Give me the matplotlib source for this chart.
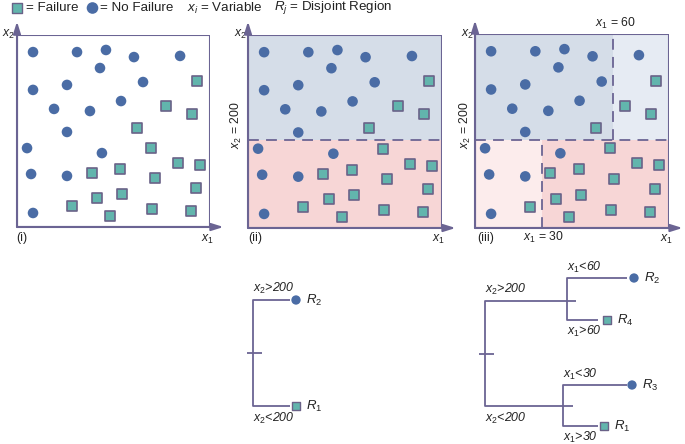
import matplotlib.pyplot as plt
from matplotlib.patches import Rectangle

plt.rcParams['font.family'] = ['Liberation Sans', 'DejaVu Sans']
plt.rcParams['mathtext.fontset'] = 'custom'
plt.rcParams['mathtext.it'] = 'Liberation Sans:italic'
plt.rcParams['mathtext.rm'] = 'Liberation Sans'

# observations, in box units (0-100 on both axes)
circle_x = [8.3, 31.1, 46.1, 60.6, 84.5, 43.0, 8.3, 25.9, 65.3, 19.2, 37.8, 53.9,
            25.9, 5.2, 44.0, 7.3, 25.9, 8.3]
circle_y = [91.1, 91.1, 92.2, 88.5, 89.1, 82.8, 71.4, 74.0, 75.5, 61.5, 60.4, 65.6,
            49.5, 41.1, 38.5, 27.6, 26.6, 7.3]
square_x = [93.3, 77.2, 90.7, 62.2, 69.4, 83.4, 94.8, 38.9, 53.4, 71.5, 92.7, 41.5,
            54.4, 28.5, 48.2, 69.9, 90.2]
square_y = [76.0, 63.0, 58.9, 51.6, 41.1, 33.3, 32.3, 28.1, 30.2, 25.5, 20.3, 15.1,
            17.2, 10.9, 5.7, 9.4, 8.3]

# split points, in box units
split_x2 = 45.6   # x2 = 200
split_x1a = 34.5  # x1 = 30
split_x1b = 71.0  # x1 = 60

AX = '#6b6493'
BLUE = '#4a6ca5'
TEAL = '#62b5ad'
SQ_EDGE = '#6a6288'
R2_C = '#d5dde8'
R1_C = '#f7d6d6'
R3_C = '#fcecec'
R4_C = '#e6ebf3'
TXT = '#222222'

W, H = 685, 444
fig = plt.figure(figsize=(W / 100, H / 100), dpi=100)

ov = fig.add_axes([0, 0, 1, 1])
ov.set_xlim(0, W)
ov.set_ylim(H, 0)
ov.axis('off')


def panel(l, t, r, b):
    ax = fig.add_axes([l / W, 1 - b / H, (r - l) / W, (b - t) / H])
    ax.set_xlim(0, 100)
    ax.set_ylim(0, 100)
    ax.axis('off')
    return ax


def frame(ax):
    ax.add_patch(Rectangle((0, 0), 100, 100, fill=False, ec=AX, lw=1.5, zorder=5))
    arrow = dict(arrowstyle='-|>,head_length=0.7,head_width=0.22', color=AX, lw=1.5,
                 shrinkA=0, shrinkB=0)
    ax.annotate('', xy=(0, 107), xytext=(0, 0), arrowprops=arrow, zorder=6,
                annotation_clip=False)
    ax.annotate('', xy=(107, 0), xytext=(0, 0), arrowprops=arrow, zorder=6,
                annotation_clip=False)


def points(ax):
    ax.scatter(circle_x, circle_y, s=58, c=BLUE, edgecolors='none',
               zorder=7, clip_on=False)
    ax.scatter(square_x, square_y, s=52, marker='s', c=TEAL, edgecolors=SQ_EDGE,
               linewidths=1.2, zorder=7, clip_on=False)


def dashed(ax, xs, ys):
    ax.plot(xs, ys, color=AX, lw=1.3, ls=(0, (6, 4)), zorder=4)


# panel (i)
a1 = panel(17, 35, 210, 227)
frame(a1)
points(a1)

# panel (ii)
a2 = panel(248, 35, 442, 228)
a2.add_patch(Rectangle((0, split_x2), 100, 100 - split_x2, fc=R2_C, ec='none'))
a2.add_patch(Rectangle((0, 0), 100, split_x2, fc=R1_C, ec='none'))
dashed(a2, [0, 100], [split_x2, split_x2])
frame(a2)
points(a2)

# panel (iii)
a3 = panel(475, 34, 669, 228)
a3.add_patch(Rectangle((0, split_x2), split_x1b, 100 - split_x2, fc=R2_C, ec='none'))
a3.add_patch(Rectangle((split_x1b, split_x2), 100 - split_x1b, 100 - split_x2, fc=R4_C, ec='none'))
a3.add_patch(Rectangle((0, 0), split_x1a, split_x2, fc=R3_C, ec='none'))
a3.add_patch(Rectangle((split_x1a, 0), 100 - split_x1a, split_x2, fc=R1_C, ec='none'))
dashed(a3, [0, 100], [split_x2, split_x2])
dashed(a3, [split_x1b, split_x1b], [split_x2, 100])
dashed(a3, [split_x1a, split_x1a], [0, split_x2])
frame(a3)
points(a3)

tk = dict(fontsize=8.8, color=TXT, va='center')
lg = dict(fontsize=9.6, color=TXT, va='center', ha='left')

# legend row
ov.scatter([17], [8], s=48, marker='s', c=TEAL, edgecolors=SQ_EDGE, linewidths=1.0, clip_on=False)
ov.text(26.5, 8, '= Failure', **lg)
ov.scatter([92.5], [8], s=70, c=BLUE, edgecolors='none', clip_on=False)
ov.text(100, 8, '= No Failure', **lg)
ov.text(187, 8, r'$x_i$ = Variable', **lg)
ov.text(274, 8, r'$R_j$ = Disjoint Region', **lg)

# panel annotations
for x0 in [8, 240, 467]:
    ov.text(x0, 34, r'$x_2$', ha='center', **tk)
for x0 in [207, 438, 666]:
    ov.text(x0, 239, r'$x_1$', ha='center', **tk)
ov.text(16, 238, '(i)', ha='left', **tk)
ov.text(248, 238, '(ii)', ha='left', **tk)
ov.text(477, 238, '(iii)', ha='left', **tk)
ov.text(236, 125, r'$x_2$ = 200', ha='center', rotation=90, **tk)
ov.text(465, 125, r'$x_2$ = 200', ha='center', rotation=90, **tk)
rk = dict(fontsize=9.5, color=TXT, va='center', ha='center')
ov.text(328, 92, r'$R_2$', **rk)
ov.text(367, 183, r'$R_1$', **rk)
ov.text(557, 90, r'$R_2$', **rk)
ov.text(635, 87, r'$R_4$', **rk)
ov.text(508, 185, r'$R_3$', **rk)
ov.text(592, 180, r'$R_1$', **rk)
ov.text(615, 23, r'$x_1$ = 60', ha='center', **tk)
ov.text(543, 237, r'$x_1$ = 30', ha='center', **tk)

# decision trees
tl = dict(color=AX, lw=1.3, solid_capstyle='butt')
lab = dict(fontsize=8.9, color=TXT, va='center', ha='left', style='italic')


def leaf(x, y, kind, name):
    if kind == 'c':
        ov.scatter([x], [y], s=45, c=BLUE, edgecolors='none', zorder=5, clip_on=False)
    else:
        ov.scatter([x], [y], s=34, marker='s', c=TEAL, edgecolors=SQ_EDGE,
                   linewidths=1.0, zorder=5, clip_on=False)
    ov.text(x + 10, y, name, fontsize=9.5, color=TXT, va='center', ha='left')


# tree 1
ov.plot([290, 253, 253, 290], [300, 300, 406, 406], **tl)
ov.plot([247, 262], [353, 353], **tl)
leaf(296, 300, 'c', r'$R_2$')
leaf(296, 406, 's', r'$R_1$')
ov.text(253, 288, r'$x_2$>200', **lab)
ov.text(253, 418, r'$x_2$<200', **lab)

# tree 2
ov.plot([576, 485, 485, 573], [301, 301, 406, 406], **tl)
ov.plot([479, 494], [354, 354], **tl)
ov.plot([627, 567, 567, 598], [278, 278, 320, 320], **tl)
ov.plot([627, 563, 563, 598], [385, 385, 426, 426], **tl)
leaf(634, 278, 'c', r'$R_2$')
leaf(607, 320, 's', r'$R_4$')
leaf(632, 385, 'c', r'$R_3$')
leaf(604, 426, 's', r'$R_1$')
ov.text(567, 267, r'$x_1$<60', **lab)
ov.text(485, 289, r'$x_2$>200', **lab)
ov.text(567, 331, r'$x_1$>60', **lab)
ov.text(563, 374, r'$x_1$<30', **lab)
ov.text(485, 418, r'$x_2$<200', **lab)
ov.text(563, 437, r'$x_1$>30', **lab)

fig.savefig('out.png', dpi=100)
